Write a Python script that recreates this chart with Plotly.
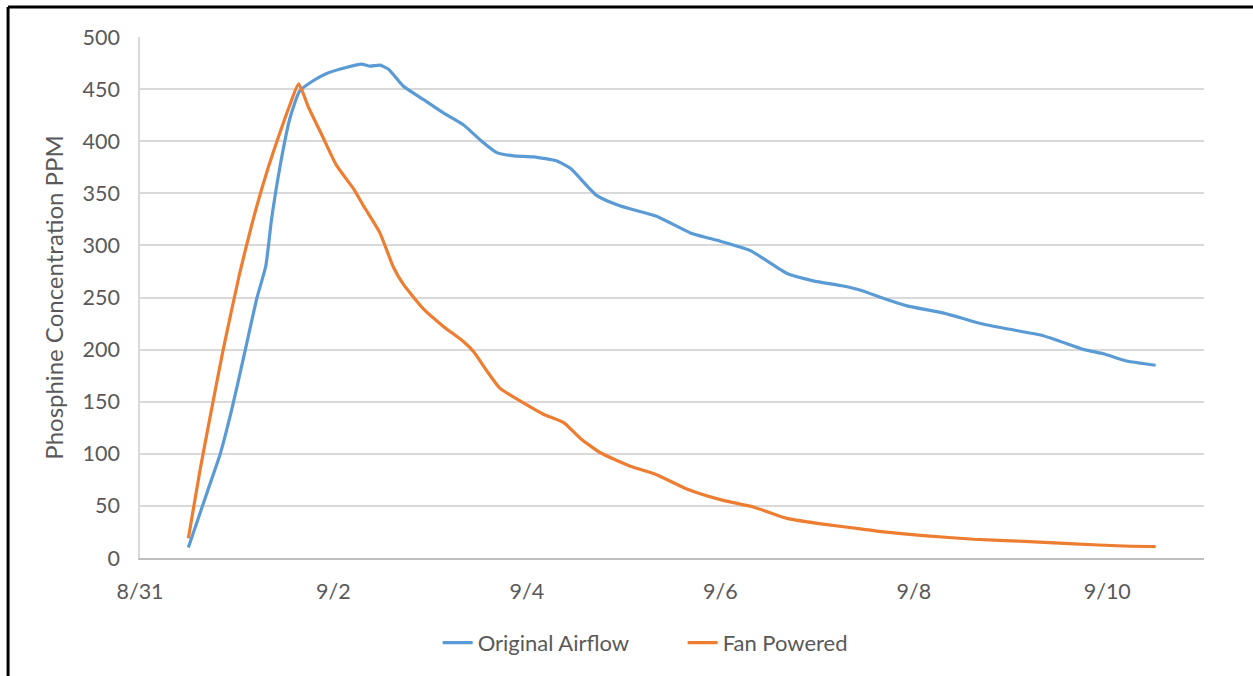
import pandas as pd
import plotly.graph_objects as go

# ---- data (days after 8/31 00:00, phosphine ppm) ----
start = "2020-08-31"

orig_days = [0.5, 0.69, 0.83, 0.95, 1.07, 1.21, 1.30, 1.36, 1.45, 1.55, 1.65, 1.79, 1.93,
             2.14, 2.29, 2.38, 2.48, 2.57, 2.72, 2.93, 3.14, 3.34, 3.52, 3.69, 3.86, 4.07,
             4.31, 4.45, 4.72, 4.96, 5.34, 5.69, 6.0, 6.31, 6.69, 6.96, 7.27, 7.45, 7.69,
             7.93, 8.31, 8.69, 8.96, 9.31, 9.48, 9.76, 9.96, 10.2, 10.5]
orig_ppm = [10, 62, 100, 143, 192, 250, 280, 325, 377, 422, 448, 458, 465,
            471, 474, 472, 473, 469, 453, 440, 427, 416, 401, 389, 386, 385,
            381, 374, 348, 338, 328, 312, 304, 295, 273, 266, 261, 257, 249,
            242, 235, 225, 220, 214, 209, 200, 196, 189, 185]

fan_days = [0.5, 0.62, 0.72, 0.86, 1.03, 1.17, 1.31, 1.45, 1.55, 1.64, 1.74, 1.88, 2.03,
            2.21, 2.31, 2.48, 2.62, 2.72, 2.93, 3.14, 3.34, 3.45, 3.59, 3.72, 3.96, 4.17,
            4.38, 4.55, 4.76, 5.07, 5.34, 5.66, 6.0, 6.34, 6.69, 7.1, 7.45, 7.69, 8.1,
            8.62, 9.14, 9.66, 10.17, 10.5]
fan_ppm = [19, 84, 133, 200, 273, 325, 370, 409, 435, 455, 433, 406, 377,
           354, 338, 312, 279, 263, 239, 222, 208, 198, 179, 163, 149, 138,
           130, 115, 101, 88, 80, 66, 56, 49, 38, 32, 28, 25, 21.5,
           18, 16, 13.5, 11.5, 11]

series_names = ["Original Airflow", "Fan Powered"]
series_colors = ["#5B9BD5", "#ED7D31"]

t0 = pd.Timestamp(start)
orig_t = t0 + pd.to_timedelta(orig_days, unit="D")
fan_t = t0 + pd.to_timedelta(fan_days, unit="D")

fig = go.Figure()
for t, v, name, col in [(orig_t, orig_ppm, series_names[0], series_colors[0]),
                        (fan_t, fan_ppm, series_names[1], series_colors[1])]:
    fig.add_trace(go.Scatter(x=t, y=v, name=name, mode="lines",
                             line=dict(color=col, width=3.2, shape="spline", smoothing=0.5)))

font_family = "Lato, 'Open Sans', sans-serif"
tick_color = "#595959"

fig.update_layout(
    width=1253, height=676,
    margin=dict(l=140, r=49, t=37, b=118),
    paper_bgcolor="white", plot_bgcolor="white",
    font=dict(family=font_family, size=21, color=tick_color),
    showlegend=True,
    legend=dict(orientation="h", x=0.51, xanchor="center", y=-0.163, yanchor="middle",
                font=dict(size=22, color=tick_color), itemwidth=30,
                entrywidth=200, entrywidthmode="pixels",
                bgcolor="rgba(0,0,0,0)"),
    xaxis=dict(type="date", range=["2020-08-31", "2020-09-11"],
               tick0="2020-08-31", dtick=2 * 86400000, tickformat="%-m/%-d",
               showgrid=False, showline=True, linecolor="#BFBFBF", linewidth=2,
               ticks="", ticklabelstandoff=13, zeroline=False,
               tickfont=dict(size=21.5, color=tick_color)),
    yaxis=dict(range=[0, 500], dtick=50, showgrid=True, gridcolor="#D9D9D9", gridwidth=1.5,
               showline=True, linecolor="#D9D9D9", linewidth=1.5, zeroline=False,
               ticks="", ticklabelstandoff=14,
               tickfont=dict(size=21.5, color=tick_color),
               title=dict(text="Phosphine Concentration PPM", standoff=12,
                          font=dict(size=24, color=tick_color))),
    shapes=[
        dict(type="line", xref="paper", yref="paper", x0=-0.124, x1=1.1, y0=1.0576, y1=1.0576,
             line=dict(color="black", width=3)),
        dict(type="line", xref="paper", yref="paper", x0=-0.124, x1=-0.124, y0=1.0576, y1=-0.3,
             line=dict(color="black", width=3)),
    ],
)

fig.write_html("out.html")
